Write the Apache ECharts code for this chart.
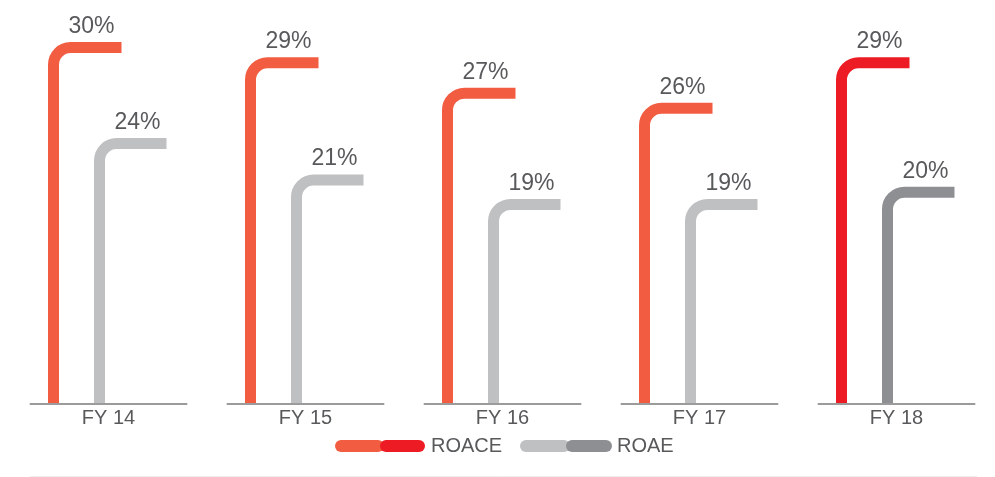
<!DOCTYPE html>
<html>
<head>
<meta charset="utf-8">
<script src="https://cdn.jsdelivr.net/npm/echarts@6/dist/echarts.min.js"></script>
<style>
html,body{margin:0;padding:0;background:#fff;}
#chart{width:995px;height:477px;}
</style>
</head>
<body>
<div id="chart"></div>
<script>
const categories = ['FY 14', 'FY 15', 'FY 16', 'FY 17', 'FY 18'];
const roace = [30, 29, 27, 26, 29];
const roae = [24, 21, 19, 19, 20];
const legendNames = ['ROACE', 'ROAE'];

const FONT = '"Liberation Sans", Arial, Helvetica, sans-serif';
const TEXT_COLOR = '#58595b';
const roaceColors = ['#F25D42', '#F25D42', '#F25D42', '#F25D42', '#ED1C24'];
const roaeColors = ['#BFC0C2', '#BFC0C2', '#BFC0C2', '#BFC0C2', '#8E8F92'];

function makeRender(colors, dx, len, drawBase) {
  return function (params, api) {
    const idx = api.value(0);
    const v = api.value(1);
    const cs = params.coordSys;
    const yB = cs.y + cs.height;
    const top = api.coord([idx, v]);
    const bw = api.size([1, 0])[0];
    const cx = top[0];
    const x0 = cx + dx;
    const yT = top[1];
    const r = 17, k = 0.5523;
    const pathData = 'M' + x0 + ' ' + yB + ' L' + x0 + ' ' + (yT + r) +
      ' C' + x0 + ' ' + (yT + r - k * r) + ' ' + (x0 + r - k * r) + ' ' + yT + ' ' + (x0 + r) + ' ' + yT +
      ' L' + (cx + len) + ' ' + yT;
    const children = [];
    if (drawBase) {
      children.push({
        type: 'line',
        shape: { x1: cx - 0.4 * bw, y1: yB + 1, x2: cx + 0.4 * bw, y2: yB + 1 },
        style: { stroke: '#9b9b9b', lineWidth: 2 }
      });
    }
    children.push({
      type: 'path',
      shape: { pathData: pathData },
      style: { fill: null, stroke: colors[idx], lineWidth: 11, lineCap: 'butt', lineJoin: 'round' }
    });
    children.push({
      type: 'text',
      x: x0 + 38,
      y: yT - 21,
      style: {
        text: v + '%',
        fill: TEXT_COLOR,
        font: '23px ' + FONT,
        align: 'center',
        verticalAlign: 'middle'
      }
    });
    return { type: 'group', children: children };
  };
}

const chart = echarts.init(document.getElementById('chart'), null, { renderer: 'canvas' });
chart.setOption({
  animation: false,
  backgroundColor: '#fff',
  grid: { left: 10, width: 986, top: 40, bottom: 74 },
  xAxis: {
    type: 'category',
    data: categories,
    boundaryGap: true,
    axisLine: { show: false },
    axisTick: { show: false },
    axisLabel: { color: TEXT_COLOR, fontSize: 20, fontFamily: FONT, margin: 5 }
  },
  yAxis: [
    { type: 'value', min: 6.6, max: 30.5, show: false },
    { type: 'value', min: 2.7, max: 32.5, show: false }
  ],
  series: [
    {
      type: 'custom',
      name: legendNames[0],
      yAxisIndex: 0,
      clip: false,
      renderItem: makeRender(roaceColors, -55, 13, true),
      encode: { x: 0, y: 1 },
      data: categories.map((c, i) => [i, roace[i]])
    },
    {
      type: 'custom',
      name: legendNames[1],
      yAxisIndex: 1,
      clip: false,
      renderItem: makeRender(roaeColors, -9, 58, false),
      encode: { x: 0, y: 1 },
      data: categories.map((c, i) => [i, roae[i]])
    }
  ],
  graphic: [
    { type: 'rect', shape: { x: 335, y: 440, width: 49, height: 12, r: 6 }, style: { fill: roaceColors[0] } },
    { type: 'rect', shape: { x: 380, y: 440, width: 45, height: 12, r: 6 }, style: { fill: roaceColors[4] } },
    { type: 'text', x: 431, y: 446, style: { text: legendNames[0], fill: TEXT_COLOR, font: '20px ' + FONT, verticalAlign: 'middle' } },
    { type: 'rect', shape: { x: 520, y: 440, width: 50, height: 12, r: 6 }, style: { fill: roaeColors[0] } },
    { type: 'rect', shape: { x: 566, y: 440, width: 46, height: 12, r: 6 }, style: { fill: roaeColors[4] } },
    { type: 'text', x: 617, y: 446, style: { text: legendNames[1], fill: TEXT_COLOR, font: '20px ' + FONT, verticalAlign: 'middle' } },
    { type: 'line', shape: { x1: 30, y1: 476.5, x2: 977, y2: 476.5 }, style: { stroke: '#eeeeee', lineWidth: 1 } }
  ]
});
</script>
</body>
</html>
